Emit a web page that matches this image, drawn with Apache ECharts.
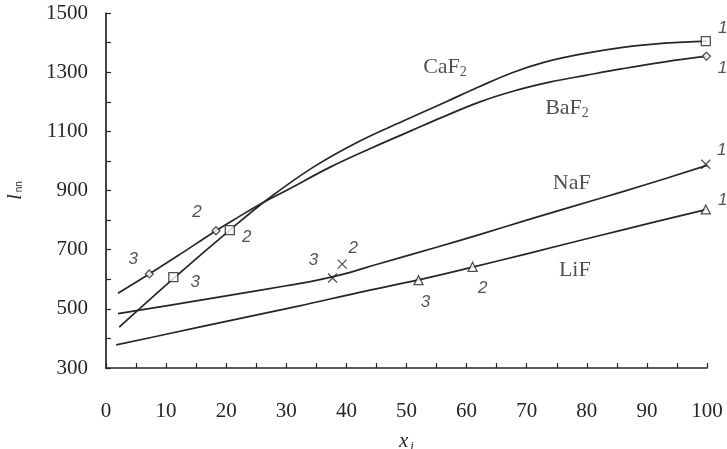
<!DOCTYPE html>
<html>
<head>
<meta charset="utf-8">
<script src="https://cdn.jsdelivr.net/npm/echarts@6/dist/echarts.min.js"></script>
<style>
html,body{margin:0;padding:0;background:#fff;}
#chart{width:727px;height:449px;}
</style>
</head>
<body>
<div id="chart"></div>
<script>
// ---- data ----
const caf2Curve = [[2.2,438],[11.2,602],[20.6,766],[27,872],[34.5,979],[42,1065],[50,1140],[56.7,1201],[62,1250],[67.7,1299],[73,1334],[79,1361],[86,1384],[93,1398],[100,1405]];
const baf2Curve = [[2,553],[7.2,618],[12,680],[18.3,764],[22,810],[26,858],[30,900],[37.3,979],[44,1042],[51,1104],[56,1148],[62,1198],[68,1237],[74,1267],[80,1290],[86,1312],[93,1335],[100,1354]];
const nafCurve = [[2,484],[10,510],[21,547],[30,578],[34,592],[40,620],[45,650],[55,708],[62,750],[70,800],[82,872],[90,921],[100,985]];
const lifCurve = [[1.7,378],[10,414],[21,462],[32,509],[42,555],[52,598],[61,641],[70,686],[82,747],[90,787],[100,836]];

const caf2Points = [[11.2,607],[20.6,766],[99.8,1405]];
const baf2Points = [[7.2,618],[18.3,764],[99.9,1354]];
const nafPoints  = [[37.7,604],[39.3,651],[99.8,989]];
const lifPoints  = [[52,597],[61,642],[99.8,836]];
const pointLabels = ['3','2','1'];

const compoundNames = ['CaF', 'BaF', 'NaF', 'LiF'];
const compoundSubs  = ['2', '2', '', ''];
const compoundAt    = [[56.4,1317],[76.7,1178],[77.5,925],[78,631]];

// ---- styles ----
const ink = '#262626';
const serif = '"Liberation Serif", "DejaVu Serif", serif';
const sans = '"Liberation Sans", Arial, sans-serif';
const labelOffsets = {
  sq:  [[22,5],[17,7],[17,-13]],
  dia: [[-16,-15],[-19,-18],[16,12]],
  x:   [[-19,-18],[11,-16],[16,-14]],
  tri: [[7,22],[10,21],[17,-9]]
};

function lineSeries(data){
  return {type:'line', data:data, smooth:0.4, showSymbol:false, symbol:'none',
    lineStyle:{color:ink, width:1.7}, z:2, silent:true};
}
function pointSeries(data, symbol, size, offs){
  return {type:'scatter', data:data.map((p,i)=>({value:p, label:{offset:offs[i]}})),
    symbol:symbol, symbolSize:size, z:5, silent:true,
    itemStyle:{color:'#fff', borderColor:ink, borderWidth:1.3},
    label:{show:true, position:'inside', formatter:(p)=>pointLabels[p.dataIndex],
      fontFamily:sans, fontStyle:'italic', fontSize:17, color:ink}};
}

const chart = echarts.init(document.getElementById('chart'), null, {renderer:'canvas'});
chart.setOption({
  animation:false,
  backgroundColor:'#fff',
  grid:{left:106, right:20, top:13, bottom:81, containLabel:false, outerBoundsMode:'none'},
  xAxis:{type:'value', min:0, max:100, interval:5,
    axisLine:{show:true, lineStyle:{color:ink, width:1.7}},
    axisTick:{show:true, inside:true, length:5, lineStyle:{color:ink, width:1.2}},
    splitLine:{show:false},
    axisLabel:{margin:33, fontFamily:serif, fontSize:21, color:ink,
      formatter:(v)=> v%10===0 ? String(v) : ''},
    name:'{i|x}{s|i}', nameLocation:'middle', nameGap:62,
    nameTextStyle:{rich:{i:{fontFamily:serif, fontStyle:'italic', fontSize:21, color:ink},
      s:{fontFamily:serif, fontStyle:'italic', fontSize:13, color:ink, padding:[10,0,0,2]}}}
  },
  yAxis:{type:'value', min:300, max:1500, interval:100,
    axisLine:{show:true, lineStyle:{color:ink, width:1.7}},
    axisTick:{show:true, inside:true, length:5, lineStyle:{color:ink, width:1.2}},
    splitLine:{show:false},
    axisLabel:{margin:18, fontFamily:serif, fontSize:21, color:ink,
      formatter:(v)=> (v-300)%200===0 ? String(v) : ''},
    name:'{i|l}{s|nn}', nameLocation:'middle', nameGap:80, nameRotate:90,
    nameTextStyle:{rich:{i:{fontFamily:serif, fontStyle:'italic', fontSize:20, color:ink},
      s:{fontFamily:sans, fontSize:10, color:ink, padding:[6,0,0,2]}}}
  },
  series:[
    lineSeries(caf2Curve), lineSeries(baf2Curve), lineSeries(nafCurve), lineSeries(lifCurve),
    pointSeries(caf2Points, 'rect', 9, labelOffsets.sq),
    pointSeries(baf2Points, 'diamond', 8, labelOffsets.dia),
    pointSeries(nafPoints, 'path://M0,0L10,10M10,0L0,10', 9, labelOffsets.x),
    pointSeries(lifPoints, 'triangle', 9, labelOffsets.tri),
    {type:'scatter', symbolSize:0, silent:true, z:6,
      data:compoundAt.map((p,i)=>({value:p})),
      label:{show:true, position:'inside',
        formatter:(p)=> '{a|'+compoundNames[p.dataIndex]+'}' + (compoundSubs[p.dataIndex] ? '{s|'+compoundSubs[p.dataIndex]+'}' : ''),
        rich:{a:{fontFamily:serif, fontSize:22, color:ink},
              s:{fontFamily:serif, fontSize:14, color:ink, padding:[10,0,0,0]}}}}
  ]
});
</script>
</body>
</html>
